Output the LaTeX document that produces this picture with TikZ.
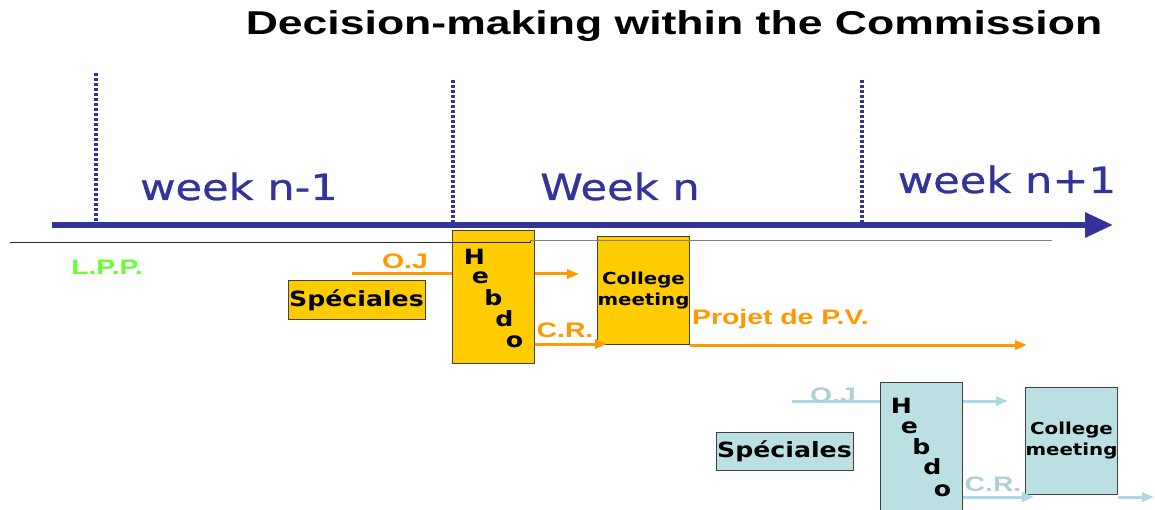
\documentclass[tikz,border=0pt]{standalone}
\usepackage{fontspec}
\setmainfont{Liberation Sans}
\newfontfamily\arialfont[FakeStretch=1.35]{Liberation Sans}
\newfontfamily\comicfont[FakeStretch=1.2]{DejaVu Sans}
\newfontfamily\weekfont[FakeStretch=1.2, FakeBold=0.8]{DejaVu Sans}
\definecolor{weekblue}{RGB}{51, 51, 153}
\definecolor{hebdoyellow}{RGB}{255, 204, 0}
\definecolor{arroworange}{RGB}{255, 153, 0}
\definecolor{lppgreen}{RGB}{102, 255, 51}
\definecolor{nextteal}{RGB}{187, 224, 228}
\definecolor{tealline}{RGB}{172, 216, 222}
\definecolor{tealtext}{RGB}{176, 208, 214}
\usetikzlibrary{arrows.meta, positioning, calc}
\tikzset{
    weekbox/.style={draw=black!75, line width=1pt, rectangle, inner sep=0pt, align=center},
    yellowbox/.style={weekbox, fill=hebdoyellow},
    tealbox/.style={weekbox, fill=nextteal},
    specbox/.style={minimum width=137pt, minimum height=38pt, font=\comicfont\bfseries\fontsize{21}{24}\selectfont},
    hebdobox/.style={minimum width=82pt, minimum height=132pt},
    collegebox/.style={minimum width=91pt, minimum height=107pt, font=\comicfont\bfseries\fontsize{16.5}{21}\selectfont},
    hebdoletter/.style={inner sep=0pt, font=\comicfont\bfseries\fontsize{21}{24}\selectfont},
    weeklabel/.style={anchor=base, text=weekblue, font=\weekfont\fontsize{36}{40}\selectfont},
    weekdiv/.style={draw=weekblue, line width=3.5pt, dash pattern=on 3pt off 2pt},
    orangeline/.style={draw=arroworange, line width=3pt},
    orangearrow/.style={orangeline, -{Triangle[length=12pt, width=9pt]}},
    tealline/.style={draw=tealline, line width=3pt},
    tealarrow/.style={tealline, -{Triangle[length=12pt, width=9pt]}},
    flowlabel/.style={inner sep=0pt, font=\arialfont\bfseries\fontsize{21}{24}\selectfont},
}

\begin{document}
\begin{tikzpicture}[x=1pt, y=-1pt]
    \clip (0,0) rectangle (1155,510);
    \fill[white] (0,0) rectangle (1155,510);

    \node[font=\arialfont\bfseries\fontsize{33}{38}\selectfont] (title) at (674,26)
          {Decision-making within the Commission};

    \foreach \x/\top in {96/73, 453/80, 862/80}
        \draw[weekdiv] (\x,\top) -- (\x,222);
    \coordinate (axisstart) at (52,225);
    \coordinate (axisend) at (1113,225);
    \draw[draw=weekblue, line width=6pt, -{Triangle[length=28pt, width=24pt]}] (axisstart) -- (axisend);

    \node[weeklabel] (wprev) at (239,200) {week n-1};
    \node[weeklabel] (wcur) at (620,200) {Week n};
    \node[weeklabel] (wnext) at (1007,193) {week n+1};

    \node[flowlabel, text=lppgreen] (lpp) at (107,267) {L.P.P.};

    \node[yellowbox, specbox] (spec) at (356.5,300) {Spéciales};
    \node[yellowbox, hebdobox] (hebdo) at (493,297) {};
    \node[yellowbox, collegebox] (college) at (643.5,290.5) {College\\meeting};
    \foreach \ch/\dx/\dy [count=\i] in {H/23/26, e/29/47, b/42/67, d/53/88, o/63/111}
        \node[hebdoletter] (hebdo-\i) at ($(hebdo.north west)+(\dx,\dy)$) {\ch};

    \draw[black!85, line width=1pt] (10,243) -- (530,243) -- (530,241);
    \draw[gray, line width=1pt] (530,241) -- (1052,241);

    \coordinate (ojstart) at (352,274);
    \coordinate (ojend) at (579,274);
    \coordinate (crend) at (607,344);
    \coordinate (pvend) at (1027,345);
    \draw[orangeline] (ojstart) -- (ojstart -| hebdo.west);
    \draw[orangearrow] (ojend -| hebdo.east) -- (ojend);
    \draw[orangearrow] (crend -| hebdo.east) -- (crend);
    \draw[orangearrow] (pvend -| college.east) -- (pvend);
    \node[flowlabel, text=arroworange] (oj) at (405,261) {O.J};
    \node[flowlabel, text=arroworange] (cr) at (565,330) {C.R.};
    \node[flowlabel, text=arroworange, anchor=base west] (pv) at (692,324) {Projet de P.V.};

    \node[tealbox, specbox] (specb) at (784.5,451) {Spéciales};
    \node[tealbox, hebdobox] (hebdob) at (921,448) {};
    \node[tealbox, collegebox] (collegeb) at (1071.5,441) {College\\meeting};
    \foreach \ch/\dx/\dy [count=\i] in {H/22/24, e/30/46, b/42/65, d/53/85, o/63/109}
        \node[hebdoletter] (hebdob-\i) at ($(hebdob.north west)+(\dx,\dy)$) {\ch};

    \coordinate (ojstartb) at (792,401);
    \coordinate (ojendb) at (1008,401);
    \coordinate (crendb) at (1034,497);
    \coordinate (pvendb) at (1154,497);
    \draw[tealline] (ojstartb) -- (ojstartb -| hebdob.west);
    \draw[tealarrow] (ojendb -| hebdob.east) -- (ojendb);
    \draw[tealarrow] (crendb -| hebdob.east) -- (crendb);
    \draw[tealarrow] (pvendb -| collegeb.east) -- (pvendb);
    \node[flowlabel, text=tealtext] (ojb) at (833,395) {O.J};
    \node[flowlabel, text=tealtext] (crb) at (993,484) {C.R.};
\end{tikzpicture}
\end{document}
